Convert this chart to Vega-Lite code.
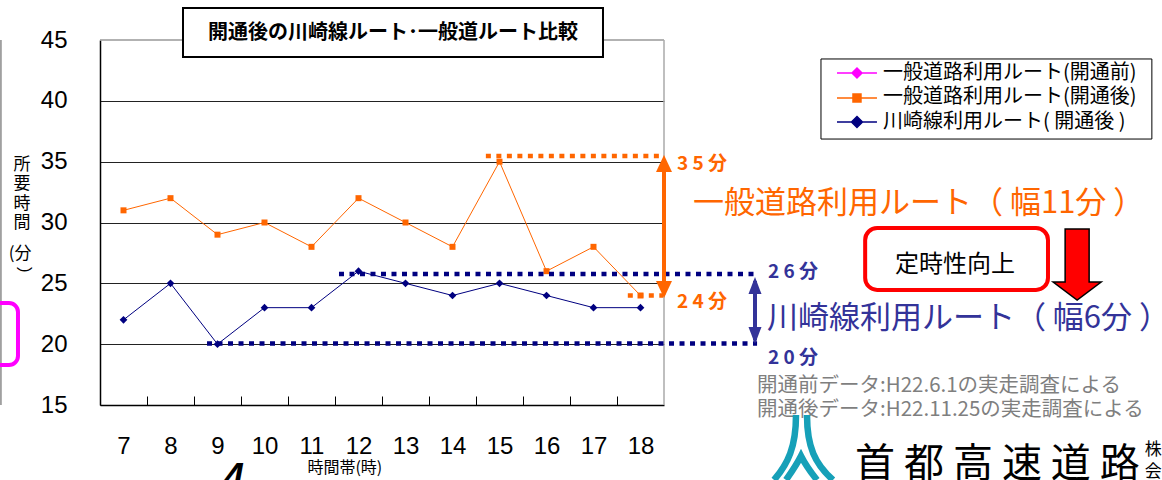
{
 "$schema": "https://vega.github.io/schema/vega-lite/v6.json",
 "width": 564, "height": 365,
 "autosize": {"type": "none"},
 "padding": {"left": 100, "top": 40, "right": 498, "bottom": 75},
 "background": "white",
 "config": {"view": {"stroke": null}, "font": "Noto Sans CJK JP"},
 "data": {"values": [
  {"hour": 7, "minutes": 31, "route": "一般道路利用ルート(開通後)"},
  {"hour": 8, "minutes": 32, "route": "一般道路利用ルート(開通後)"},
  {"hour": 9, "minutes": 29, "route": "一般道路利用ルート(開通後)"},
  {"hour": 10, "minutes": 30, "route": "一般道路利用ルート(開通後)"},
  {"hour": 11, "minutes": 28, "route": "一般道路利用ルート(開通後)"},
  {"hour": 12, "minutes": 32, "route": "一般道路利用ルート(開通後)"},
  {"hour": 13, "minutes": 30, "route": "一般道路利用ルート(開通後)"},
  {"hour": 14, "minutes": 28, "route": "一般道路利用ルート(開通後)"},
  {"hour": 15, "minutes": 35, "route": "一般道路利用ルート(開通後)"},
  {"hour": 16, "minutes": 26, "route": "一般道路利用ルート(開通後)"},
  {"hour": 17, "minutes": 28, "route": "一般道路利用ルート(開通後)"},
  {"hour": 18, "minutes": 24, "route": "一般道路利用ルート(開通後)"},
  {"hour": 7, "minutes": 22, "route": "川崎線利用ルート(開通後)"},
  {"hour": 8, "minutes": 25, "route": "川崎線利用ルート(開通後)"},
  {"hour": 9, "minutes": 20, "route": "川崎線利用ルート(開通後)"},
  {"hour": 10, "minutes": 23, "route": "川崎線利用ルート(開通後)"},
  {"hour": 11, "minutes": 23, "route": "川崎線利用ルート(開通後)"},
  {"hour": 12, "minutes": 26, "route": "川崎線利用ルート(開通後)"},
  {"hour": 13, "minutes": 25, "route": "川崎線利用ルート(開通後)"},
  {"hour": 14, "minutes": 24, "route": "川崎線利用ルート(開通後)"},
  {"hour": 15, "minutes": 25, "route": "川崎線利用ルート(開通後)"},
  {"hour": 16, "minutes": 24, "route": "川崎線利用ルート(開通後)"},
  {"hour": 17, "minutes": 23, "route": "川崎線利用ルート(開通後)"},
  {"hour": 18, "minutes": 23, "route": "川崎線利用ルート(開通後)"}
 ]},
 "layer": [
  {"data": {"values": [{}]}, "mark": {"type": "rule", "color": "#a0a0a0", "strokeWidth": 2},
   "encoding": {"x": {"datum": 4.39, "type": "quantitative"}}},
  {"data": {"values": [{}]}, "mark": {"type": "rule", "color": "#999999", "strokeWidth": 1.5},
   "encoding": {"y": {"datum": 45, "type": "quantitative"}}},
  {"data": {"values": [{}]}, "mark": {"type": "rule", "color": "#aaaaaa", "strokeWidth": 1.5},
   "encoding": {"x": {"datum": 18.5, "type": "quantitative"}}},
  {"mark": {"type": "line", "strokeWidth": 1},
   "encoding": {
    "x": {"field": "hour", "type": "quantitative",
      "scale": {"domain": [6.5, 18.5], "nice": false, "zero": false},
      "axis": {"title": null, "values": [6.5,7.5,8.5,9.5,10.5,11.5,12.5,13.5,14.5,15.5,16.5,17.5],
        "labelExpr": "format(datum.value + 0.5, 'd')", "labelOffset": 23.5, "labelFlush": false, "labelOverlap": false, "labelBound": false,
        "grid": false, "tickSize": -9, "tickColor": "#000", "tickWidth": 1, "domainColor": "#000", "domainWidth": 1.5,
        "labelFont": "Liberation Sans", "labelFontSize": 24, "labelColor": "#000", "labelPadding": 38}},
    "y": {"field": "minutes", "type": "quantitative",
      "scale": {"domain": [15, 45], "nice": false, "zero": false},
      "axis": {"title": null, "values": [15,20,25,30,35,40,45], "ticks": false,
        "grid": true, "gridColor": "#222", "gridWidth": 1,
        "gridOpacity": {"condition": {"test": "datum.value == 45 || datum.value == 15", "value": 0}, "value": 1},
        "domainColor": "#000", "domainWidth": 1.5, "labelFlush": false, "labelOverlap": false, "labelBound": false,
        "labelFont": "Liberation Sans", "labelFontSize": 24, "labelColor": "#000", "labelPadding": 33}},
    "color": {"field": "route", "type": "nominal",
      "scale": {"domain": ["一般道路利用ルート(開通後)", "川崎線利用ルート(開通後)"], "range": ["#ff6600", "#000080"]}, "legend": null}
   }},
  {"mark": {"type": "point", "filled": true, "opacity": 1},
   "encoding": {
    "x": {"field": "hour", "type": "quantitative"},
    "y": {"field": "minutes", "type": "quantitative"},
    "color": {"field": "route", "type": "nominal", "legend": null},
    "shape": {"field": "route", "type": "nominal", "scale": {"domain": ["一般道路利用ルート(開通後)", "川崎線利用ルート(開通後)"], "range": ["square", "diamond"]}, "legend": null},
    "size": {"field": "route", "type": "nominal", "scale": {"domain": ["一般道路利用ルート(開通後)", "川崎線利用ルート(開通後)"], "range": [36, 60]}, "legend": null}
   }},
  {"data": {"values": [{}]}, "mark": {"type": "rule", "color": "#ff6600", "strokeWidth": 4.5, "strokeDash": [5, 5.5], "strokeCap": "butt"},
   "encoding": {"x": {"datum": 14.71, "type": "quantitative"}, "x2": {"datum": 18.42}, "y": {"datum": 35.47, "type": "quantitative"}}},
  {"data": {"values": [{}]}, "mark": {"type": "rule", "color": "#ff6600", "strokeWidth": 4.5, "strokeDash": [5, 5.5], "strokeCap": "butt"},
   "encoding": {"x": {"datum": 17.73, "type": "quantitative"}, "x2": {"datum": 18.48}, "y": {"datum": 24.0, "type": "quantitative"}}},
  {"data": {"values": [{}]}, "mark": {"type": "rule", "color": "#000080", "strokeWidth": 4.5, "strokeDash": [5, 5.5], "strokeCap": "butt"},
   "encoding": {"x": {"datum": 11.585, "type": "quantitative"}, "x2": {"datum": 20.48}, "y": {"datum": 25.77, "type": "quantitative"}}},
  {"data": {"values": [{}]}, "mark": {"type": "rule", "color": "#000080", "strokeWidth": 4.5, "strokeDash": [5, 5.5], "strokeCap": "butt"},
   "encoding": {"x": {"datum": 8.777, "type": "quantitative"}, "x2": {"datum": 20.48}, "y": {"datum": 20.05, "type": "quantitative"}}},
  {"data": {"values": [{}]}, "mark": {"type": "rule", "color": "#ff6600", "strokeWidth": 4},
   "encoding": {"x": {"datum": 18.5, "type": "quantitative"}, "y": {"datum": 35.2, "type": "quantitative"}, "y2": {"datum": 24.1}}},
  {"data": {"values": [{}]}, "mark": {"type": "point", "filled": true, "opacity": 1, "color": "#ff6600", "size": 4, "shape": "M0,0L8,17L-8,17Z"},
   "encoding": {"x": {"datum": 18.5, "type": "quantitative"}, "y": {"datum": 35.55, "type": "quantitative"}}},
  {"data": {"values": [{}]}, "mark": {"type": "point", "filled": true, "opacity": 1, "color": "#ff6600", "size": 4, "shape": "M0,0L8,-17L-8,-17Z"},
   "encoding": {"x": {"datum": 18.5, "type": "quantitative"}, "y": {"datum": 23.79, "type": "quantitative"}}},
  {"data": {"values": [{}]}, "mark": {"type": "rule", "color": "#333399", "strokeWidth": 4},
   "encoding": {"x": {"datum": 20.436, "type": "quantitative"}, "y": {"datum": 25.2, "type": "quantitative"}, "y2": {"datum": 20.3}}},
  {"data": {"values": [{}]}, "mark": {"type": "point", "filled": true, "opacity": 1, "color": "#333399", "size": 4, "shape": "M0,0L6.5,17L-6.5,17Z"},
   "encoding": {"x": {"datum": 20.436, "type": "quantitative"}, "y": {"datum": 25.52, "type": "quantitative"}}},
  {"data": {"values": [{}]}, "mark": {"type": "point", "filled": true, "opacity": 1, "color": "#333399", "size": 4, "shape": "M0,0L6.5,-17L-6.5,-17Z"},
   "encoding": {"x": {"datum": 20.436, "type": "quantitative"}, "y": {"datum": 20.01, "type": "quantitative"}}},
  {"data": {"values": [{}]}, "mark": {"type": "text", "text": "3 5 分", "color": "#ff6600", "fontSize": 19, "fontWeight": "bold", "align": "left", "baseline": "middle"},
   "encoding": {"x": {"datum": 18.777, "type": "quantitative"}, "y": {"datum": 34.81, "type": "quantitative"}}},
  {"data": {"values": [{}]}, "mark": {"type": "text", "text": "2 4 分", "color": "#ff6600", "fontSize": 19, "fontWeight": "bold", "align": "left", "baseline": "middle"},
   "encoding": {"x": {"datum": 18.777, "type": "quantitative"}, "y": {"datum": 23.44, "type": "quantitative"}}},
  {"data": {"values": [{}]}, "mark": {"type": "text", "text": "2 6 分", "color": "#333399", "fontSize": 19, "fontWeight": "bold", "align": "left", "baseline": "middle"},
   "encoding": {"x": {"datum": 20.713, "type": "quantitative"}, "y": {"datum": 25.93, "type": "quantitative"}}},
  {"data": {"values": [{}]}, "mark": {"type": "text", "text": "2 0 分", "color": "#333399", "fontSize": 19, "fontWeight": "bold", "align": "left", "baseline": "middle"},
   "encoding": {"x": {"datum": 20.713, "type": "quantitative"}, "y": {"datum": 18.86, "type": "quantitative"}}},
  {"data": {"values": [{}]}, "mark": {"type": "text", "text": "一般道路利用ルート（ 幅11分 ）", "color": "#ff6600", "fontSize": 31, "align": "left", "baseline": "middle"},
   "encoding": {"x": {"datum": 19.117, "type": "quantitative"}, "y": {"datum": 31.5, "type": "quantitative"}}},
  {"data": {"values": [{}]}, "mark": {"type": "text", "text": "川崎線利用ルート（ 幅6分 ）", "color": "#333399", "fontSize": 31, "align": "left", "baseline": "middle"},
   "encoding": {"x": {"datum": 20.69, "type": "quantitative"}, "y": {"datum": 22.05, "type": "quantitative"}}},
  {"data": {"values": [{}]}, "mark": {"type": "rect", "fill": "white", "stroke": "#ff0000", "strokeWidth": 4, "cornerRadius": 12},
   "encoding": {"x": {"datum": 22.78, "type": "quantitative"}, "x2": {"datum": 26.67}, "y": {"datum": 29.55, "type": "quantitative"}, "y2": {"datum": 24.46}}},
  {"data": {"values": [{}]}, "mark": {"type": "text", "text": "定時性向上", "color": "#000", "fontSize": 24, "align": "center", "baseline": "middle"},
   "encoding": {"x": {"datum": 24.69, "type": "quantitative"}, "y": {"datum": 26.51, "type": "quantitative"}}},
  {"data": {"values": [{}]}, "mark": {"type": "point", "filled": true, "opacity": 1, "fill": "#ff0000", "stroke": "#000", "strokeWidth": 1.5, "size": 4,
     "shape": "M-12,-35.5L12,-35.5L12,17.5L24,17.5L0,35.5L-24,17.5L-12,17.5Z"},
   "encoding": {"x": {"datum": 27.29, "type": "quantitative"}, "y": {"datum": 26.55, "type": "quantitative"}}},
  {"data": {"values": [{}]}, "mark": {"type": "text", "text": "開通前データ:H22.6.1の実走調査による\n開通後データ:H22.11.25の実走調査による", "lineBreak": "\n", "lineHeight": 24, "color": "#7f7f7f", "fontSize": 20.5, "align": "left", "baseline": "middle"},
   "encoding": {"x": {"datum": 20.48, "type": "quantitative"}, "y": {"datum": 16.56, "type": "quantitative"}}},
  {"data": {"values": [{}]}, "mark": {"type": "point", "filled": false, "opacity": 1, "color": "#16a0b8", "strokeWidth": 6.5, "size": 4,
     "shape": "M-5,-37C-5,-5 -13,12 -27,28M6,-37C6,-5 14,12 32,28M-15,28C-8,18 -3,10 0,4C3,10 8,18 16,28"},
   "encoding": {"x": {"datum": 21.415, "type": "quantitative"}, "y": {"datum": 11.14, "type": "quantitative"}}},
  {"data": {"values": [{}]}, "mark": {"type": "text", "text": "首 都 高 速 道 路", "color": "#000", "fontSize": 40, "align": "left", "baseline": "middle"},
   "encoding": {"x": {"datum": 22.564, "type": "quantitative"}, "y": {"datum": 10.05, "type": "quantitative"}}},
  {"data": {"values": [{}]}, "mark": {"type": "text", "text": "株\n会", "lineBreak": "\n", "lineHeight": 22, "color": "#000", "fontSize": 17, "align": "left", "baseline": "middle"},
   "encoding": {"x": {"datum": 28.73, "type": "quantitative"}, "y": {"datum": 11.3, "type": "quantitative"}}},
  {"data": {"values": [{}]}, "mark": {"type": "text", "text": "所\n要\n時\n間", "lineBreak": "\n", "lineHeight": 19.5, "color": "#000", "fontSize": 17, "align": "center", "baseline": "middle"},
   "encoding": {"x": {"datum": 4.84, "type": "quantitative"}, "y": {"datum": 34.73, "type": "quantitative"}}},
  {"data": {"values": [{}]}, "mark": {"type": "text", "text": "(分", "color": "#000", "fontSize": 17, "align": "center", "baseline": "middle"},
   "encoding": {"x": {"datum": 4.8, "type": "quantitative"}, "y": {"datum": 27.4, "type": "quantitative"}}},
  {"data": {"values": [{}]}, "mark": {"type": "text", "text": ")", "angle": 90, "font": "Liberation Sans", "color": "#000", "fontSize": 17, "align": "center", "baseline": "middle"},
   "encoding": {"x": {"datum": 4.9, "type": "quantitative"}, "y": {"datum": 26.1, "type": "quantitative"}}},
  {"data": {"values": [{}]}, "mark": {"type": "text", "text": "時間帯(時)", "color": "#000", "fontSize": 16, "align": "center", "baseline": "middle"},
   "encoding": {"x": {"datum": 11.71, "type": "quantitative"}, "y": {"datum": 9.82, "type": "quantitative"}}},
  {"data": {"values": [{}]}, "mark": {"type": "text", "text": "4", "font": "Liberation Sans", "fontStyle": "italic", "fontWeight": "bold", "color": "#000", "fontSize": 36, "align": "center", "baseline": "top"},
   "encoding": {"x": {"datum": 9.35, "type": "quantitative"}, "y": {"datum": 10.4, "type": "quantitative"}}},
  {"data": {"values": [{}]}, "mark": {"type": "rect", "fillOpacity": 0, "stroke": "#ff00ff", "strokeWidth": 4, "cornerRadius": 9},
   "encoding": {"x": {"datum": 3.9, "type": "quantitative"}, "x2": {"datum": 4.755}, "y": {"datum": 23.38, "type": "quantitative"}, "y2": {"datum": 18.29}}},
  {"data": {"values": [{}]}, "mark": {"type": "rect", "fill": "white", "stroke": "#000", "strokeWidth": 2},
   "encoding": {"x": {"datum": 8.266, "type": "quantitative"}, "x2": {"datum": 17.202}, "y": {"datum": 47.63, "type": "quantitative"}, "y2": {"datum": 43.6}}},
  {"data": {"values": [{}]}, "mark": {"type": "text", "text": "開通後の川崎線ルート･一般道ルート比較", "color": "#000", "fontSize": 20, "fontWeight": "bold", "align": "center", "baseline": "middle"},
   "encoding": {"x": {"datum": 12.734, "type": "quantitative"}, "y": {"datum": 45.575, "type": "quantitative"}}},
  {"data": {"values": [{}]}, "mark": {"type": "rect", "fill": "white", "stroke": "#000", "strokeWidth": 1},
   "encoding": {"x": {"datum": 21.84, "type": "quantitative"}, "x2": {"datum": 28.88}, "y": {"datum": 43.44, "type": "quantitative"}, "y2": {"datum": 36.86}}},
  {"data": {"values": [{}]}, "mark": {"type": "point", "filled": true, "opacity": 1, "fill": "#ff00ff", "stroke": "#ff00ff", "strokeWidth": 1.5, "size": 4, "shape": "M-20,0H20M0,-5L5,0L0,5L-5,0Z"},
   "encoding": {"x": {"datum": 22.606, "type": "quantitative"}, "y": {"datum": 42.29, "type": "quantitative"}}},
  {"data": {"values": [{}]}, "mark": {"type": "point", "filled": true, "opacity": 1, "fill": "#ff6600", "stroke": "#ff6600", "strokeWidth": 1.5, "size": 4, "shape": "M-20,0H20M-4,-4H4V4H-4Z"},
   "encoding": {"x": {"datum": 22.606, "type": "quantitative"}, "y": {"datum": 40.23, "type": "quantitative"}}},
  {"data": {"values": [{}]}, "mark": {"type": "point", "filled": true, "opacity": 1, "fill": "#000080", "stroke": "#000080", "strokeWidth": 1.5, "size": 4, "shape": "M-20,0H20M0,-5.5L5.5,0L0,5.5L-5.5,0Z"},
   "encoding": {"x": {"datum": 22.606, "type": "quantitative"}, "y": {"datum": 38.26, "type": "quantitative"}}},
  {"data": {"values": [{}]}, "mark": {"type": "text", "text": "一般道路利用ルート(開通前)\n一般道路利用ルート(開通後)\n川崎線利用ルート( 開通後 )", "lineBreak": "\n", "lineHeight": 24.5, "color": "#000", "fontSize": 20, "align": "left", "baseline": "middle"},
   "encoding": {"x": {"datum": 23.16, "type": "quantitative"}, "y": {"datum": 42.29, "type": "quantitative"}}}
 ]
}
